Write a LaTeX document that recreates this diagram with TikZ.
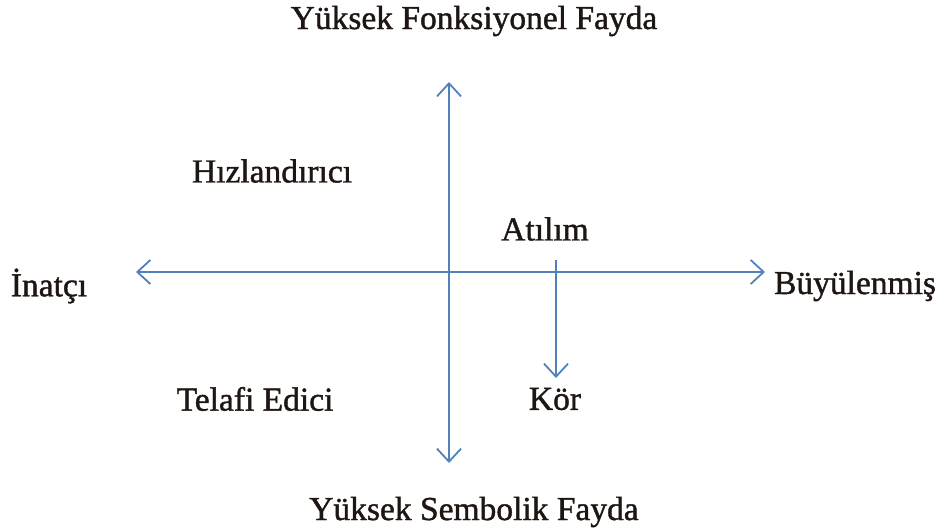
\documentclass[tikz,border=0pt]{standalone}
\usepackage{fontspec}
\setmainfont{Liberation Serif}
\newfontfamily\lblfont[FakeBold=1.2]{Liberation Serif}
\usetikzlibrary{arrows.meta}
\definecolor{axisblue}{RGB}{79,129,189}
\definecolor{txt}{RGB}{30,22,18}
\tikzset{
  lbl/.style={font=\lblfont\fontsize{33.5}{36}\selectfont, text=txt, inner sep=0pt},
  axis/.style={draw=axisblue, line width=1.8pt, arrows={-Straight Barb[length=13pt,width=24pt,line width=1.8pt]}}
}
\begin{document}
\begin{tikzpicture}[x=1pt,y=-1pt]
\useasboundingbox (0,0) rectangle (936,527);
\coordinate (c) at (449,272);
\coordinate (top) at (449,82);
\coordinate (bot) at (449,463);
\coordinate (lft) at (136,272);
\coordinate (rgt) at (765,272);
\coordinate (ks) at (556,260);
\coordinate (ke) at (556,378);
\draw[axis] (c) -- (top);
\draw[axis] (c) -- (bot);
\draw[axis] (c) -- (lft);
\draw[axis] (c) -- (rgt);
\draw[axis] (ks) -- (ke);
\node[lbl] (n1) at (474,21) {Yüksek Fonksiyonel Fayda};
\node[lbl] (n2) at (272,171) {Hızlandırıcı};
\node[lbl] (n3) at (545,229) {Atılım};
\node[lbl] (n4) at (49,286) {İnatçı};
\node[lbl] (n5) at (855,286) {Büyülenmiş};
\node[lbl] (n6) at (255,399) {Telafi Edici};
\node[lbl] (n7) at (555,399) {Kör};
\node[lbl] (n8) at (474,512) {Yüksek Sembolik Fayda};
\end{tikzpicture}
\end{document}
